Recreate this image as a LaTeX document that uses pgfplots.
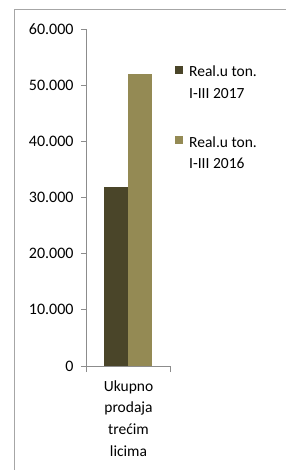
\documentclass[border=0pt]{standalone}
\usepackage{fontspec}
\setmainfont{Carlito}
\usepackage{pgfplots}
\pgfplotsset{compat=1.18}
\definecolor{c17}{HTML}{4A4529}
\definecolor{c16}{HTML}{948A54}
\definecolor{axgray}{HTML}{8C8C8C}
\definecolor{bordergray}{HTML}{A6A6A6}
\newcommand{\twoline}[2]{\begin{tabular}[t]{@{}l@{}}#1\\#2\end{tabular}}
\begin{document}
\begin{tikzpicture}[font=\fontsize{15.5bp}{21.7bp}\selectfont]
\useasboundingbox (-87bp,-104bp) rectangle (199bp,366bp);
\draw[bordergray, line width=1bp] (-72bp,-110bp) -- (-72bp,356.5bp) -- (205bp,356.5bp);
\begin{axis}[
  at={(0,0)}, anchor=south west,
  scale only axis, width=83bp, height=337bp,
  xmin=0, xmax=1, ymin=0, ymax=60000,
  ytick={0,10000,...,60000},
  scaled y ticks=false,
  axis x line*=bottom, axis y line*=left,
  axis line style={draw=axgray, line width=1bp},
  tick align=outside,
  major tick length=6bp,
  tick style={draw=axgray, line width=1bp},
  xtick={0,1}, xticklabels={,},
  extra x ticks={0.5},
  extra x tick labels={{Ukupno\\prodaja\\trećim\\licima}},
  extra x tick style={major tick length=0pt, tick label style={align=center, yshift=-11bp}},
  yticklabel style={xshift=-4bp, font=\fontsize{16bp}{19bp}\selectfont, /pgf/number format/.cd, fixed, precision=0, 1000 sep={.}, assume math mode=true},
  ybar=0pt, bar width=24bp,
  legend style={at={(1.06,1)}, anchor=north west, yshift=-30bp, draw=none, fill=none,
    inner sep=0pt, row sep=50bp,
    /tikz/every odd column/.append style={column sep=4bp}},
  legend cell align=left,
  legend image code/.code={\fill[#1] (0bp,-4bp) rectangle (8bp,4bp);},
]
\addplot[fill=c17, draw=none] coordinates {(0.5,31900)};
\addplot[fill=c16, draw=none] coordinates {(0.5,52000)};
\legend{{\twoline{Real.u ton.}{I-III 2017}},{\twoline{Real.u ton.}{I-III 2016}}}
\end{axis}
\end{tikzpicture}
\end{document}
